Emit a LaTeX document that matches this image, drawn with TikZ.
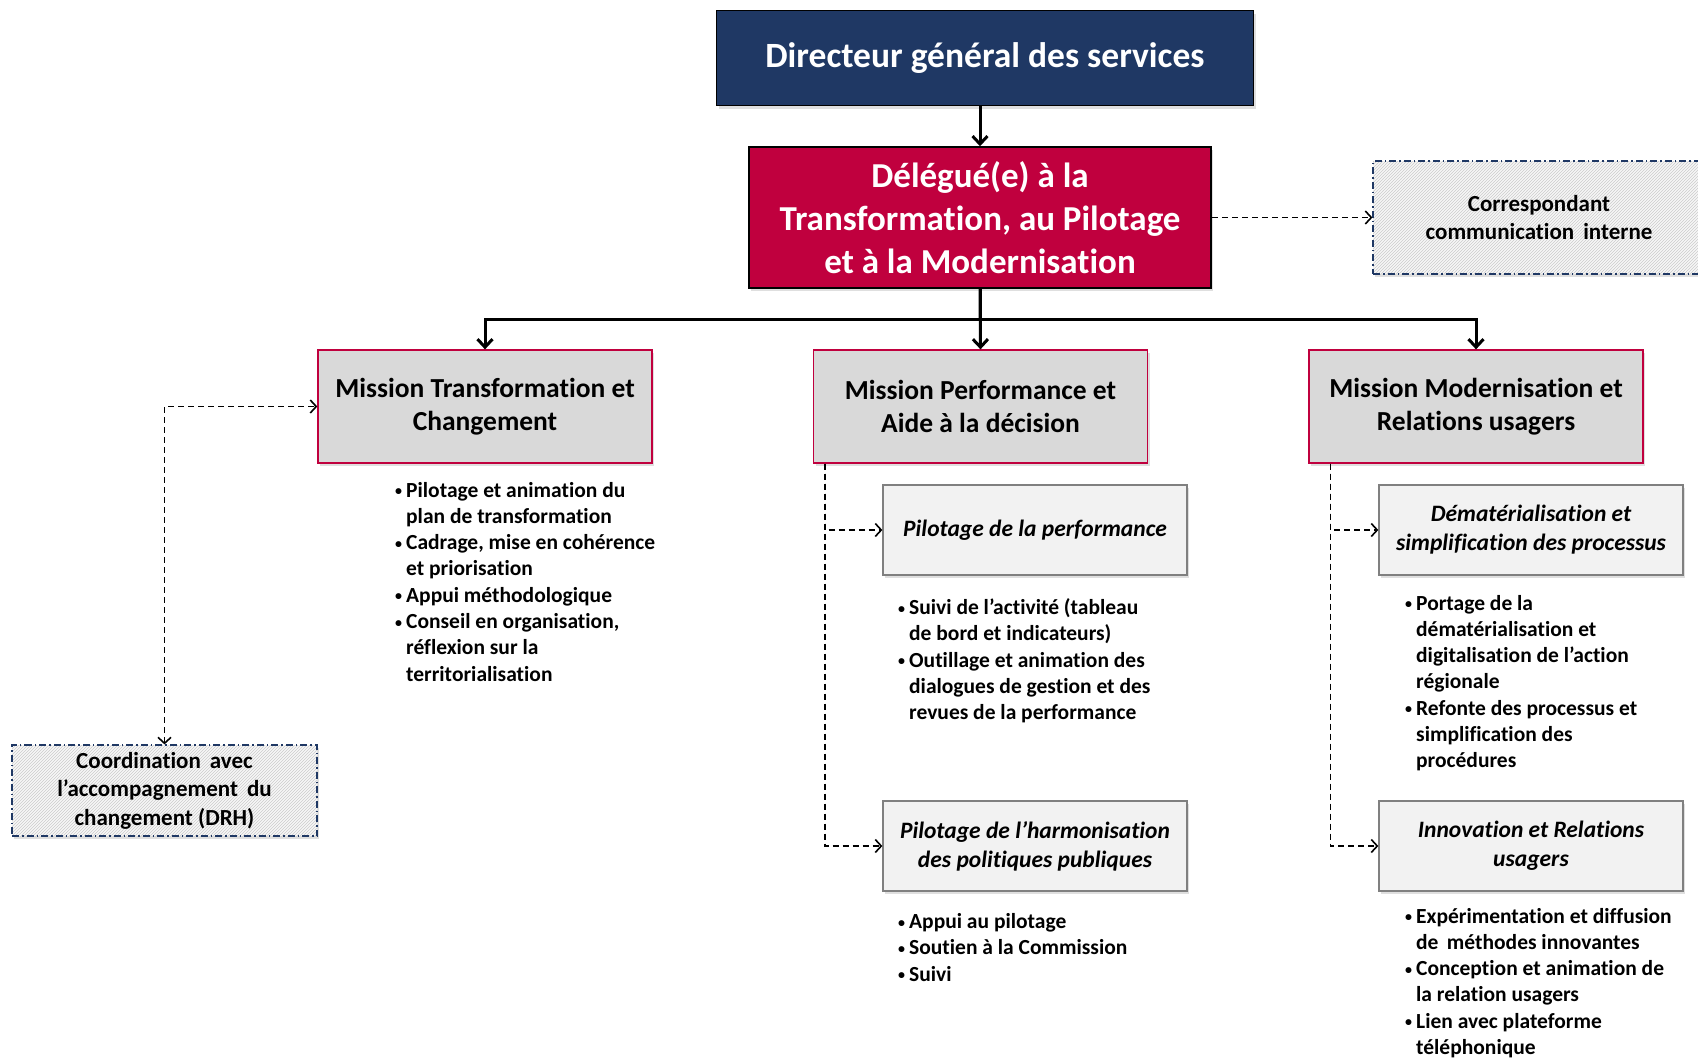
\documentclass[tikz,border=0pt]{standalone}
\usepackage{fontspec}
\setmainfont{Carlito}[Ligatures=NoCommon]
\usetikzlibrary{arrows.meta,patterns,shadows}

\definecolor{dgsblue}{RGB}{31,56,100}
\definecolor{delred}{RGB}{192,0,62}
\definecolor{misgray}{RGB}{217,217,217}
\definecolor{subgray}{RGB}{242,242,242}

\newcommand{\fsz}[2]{\fontsize{#1}{#2}\selectfont}
\newcommand{\bul}{\raisebox{1.5pt}{\fsz{14}{14}\textbullet}}

\begin{document}
\begin{tikzpicture}[x=1pt,y=-1pt,
	box/.style={draw, rectangle, align=center, inner sep=0pt, drop shadow={shadow xshift=2pt, shadow yshift=-3pt, opacity=.25}},
	dgsbox/.style={box, fill=dgsblue, draw=black, line width=1.5pt, text=white, minimum width=537pt, minimum height=95pt, font=\bfseries\fsz{35.5}{42}},
	delbox/.style={box, fill=delred, draw=black, line width=1.5pt, text=white, minimum width=462pt, minimum height=141pt, font=\bfseries\fsz{35}{43}},
	misbox/.style={box, fill=misgray, draw=delred, line width=1.3pt, minimum width=334pt, minimum height=113pt, font=\bfseries\fsz{27.5}{33.5}},
	subbox/.style={box, fill=subgray, draw=gray, line width=1.3pt, minimum width=304pt, minimum height=90pt, font=\bfseries\itshape\fsz{23.5}{29}},
	notebox/.style={box, draw=dgsblue, line width=1.2pt, dash pattern=on 7pt off 3pt on 1.5pt off 3pt, preaction={fill=gray!6}, pattern=north east lines, pattern color=gray!40, font=\bfseries\fsz{23}{28.5}},
	bullets/.style={anchor=base west, inner sep=0pt, align=left, font=\bfseries\fsz{21.5}{26.3}},
	mainarrow/.style={line width=3pt, -{Straight Barb[length=8pt,width=15pt]}},
	dasharrow/.style={line width=1.6pt, dash pattern=on 6pt off 4pt, -{Straight Barb[length=6pt,width=13pt]}}
	]
	\useasboundingbox (0,0) rectangle (1698,1058);

	\node[dgsbox] (DGS) at (985,58) {Directeur général des services};
	\node[delbox] (DEL) at (980,217.5) {Délégué(e) à la\\Transformation, au Pilotage\\et à la Modernisation};
	\node[notebox, minimum width=332pt, minimum height=113pt] (COR) at (1539,217.5) {Correspondant\\communication\, interne};

	\node[misbox] (MTC) at (485,406.5) {Mission Transformation et\\Changement};
	\node[misbox] (MPAD) at (980.5,406.5) {Mission Performance et\\Aide à la décision};
	\node[misbox] (MMRU) at (1476,406.5) {Mission Modernisation et\\Relations usagers};

	\node[notebox, minimum width=305pt, minimum height=91pt] (COO) at (164.5,790.5) {Coordination\, avec\\l’accompagnement\, du\\changement (DRH)};

	\node[subbox] (PP) at (1035,530) {Pilotage de la performance};
	\node[subbox] (PH) at (1035,846) {Pilotage de l’harmonisation\\des politiques publiques};
	\node[subbox] (DS) at (1531,530) {Dématérialisation et\\simplification des processus};
	\node[subbox] (IR) at (1531,846) {Innovation et Relations\\usagers};

	\node[bullets] (LMTC) at (395,497) {\begin{tabular}[t]{@{}l@{\hspace{4pt}}l@{}}
		\bul & Pilotage et animation du\\ & plan de transformation\\
		\bul & Cadrage, mise en cohérence\\ & et priorisation\\
		\bul & Appui méthodologique\\
		\bul & Conseil en organisation,\\ & réflexion sur la\\ & territorialisation
	\end{tabular}};
	\node[bullets] (LPP) at (898,614.5) {\begin{tabular}[t]{@{}l@{\hspace{4pt}}l@{}}
		\bul & Suivi de l’activité (tableau\\ & de bord et indicateurs)\\
		\bul & Outillage et animation des\\ & dialogues de gestion et des\\ & revues de la performance
	\end{tabular}};
	\node[bullets] (LPH) at (898,928.5) {\begin{tabular}[t]{@{}l@{\hspace{4pt}}l@{}}
		\bul & Appui au pilotage\\
		\bul & Soutien à la Commission\\
		\bul & Suivi
	\end{tabular}};
	\node[bullets] (LDS) at (1405,610) {\begin{tabular}[t]{@{}l@{\hspace{4pt}}l@{}}
		\bul & Portage de la\\ & dématérialisation et\\ & digitalisation de l’action\\ & régionale\\
		\bul & Refonte des processus et\\ & simplification des\\ & procédures
	\end{tabular}};
	\node[bullets] (LIR) at (1405,923) {\begin{tabular}[t]{@{}l@{\hspace{4pt}}l@{}}
		\bul & Expérimentation et diffusion\\ & de\, méthodes innovantes\\
		\bul & Conception et animation de\\ & la relation usagers\\
		\bul & Lien avec plateforme\\ & téléphonique
	\end{tabular}};

	\coordinate (bus) at (980,319);
	\coordinate (mpd) at ([xshift=12pt]MPAD.south west);
	\coordinate (mmd) at ([xshift=22pt]MMRU.south west);

	\draw[mainarrow] (DEL.north |- DGS.south) -- (DEL.north);
	\draw[mainarrow] (DEL.south) -- (bus) -| (MTC.north);
	\draw[mainarrow] (DEL.south) -- (MPAD.north);
	\draw[mainarrow] (DEL.south) -- (bus) -| (MMRU.north);

	\draw[dasharrow] (DEL.east) -- (COR.west);
	\draw[dasharrow, {Straight Barb[length=6pt,width=13pt]}-{Straight Barb[length=6pt,width=13pt]}] (COO.north) |- (MTC.west);
	\draw[dasharrow] (mpd) |- (PP.west);
	\draw[dasharrow] (mpd) |- (PH.west);
	\draw[dasharrow] (mmd) |- (DS.west);
	\draw[dasharrow] (mmd) |- (IR.west);

\end{tikzpicture}
\end{document}
